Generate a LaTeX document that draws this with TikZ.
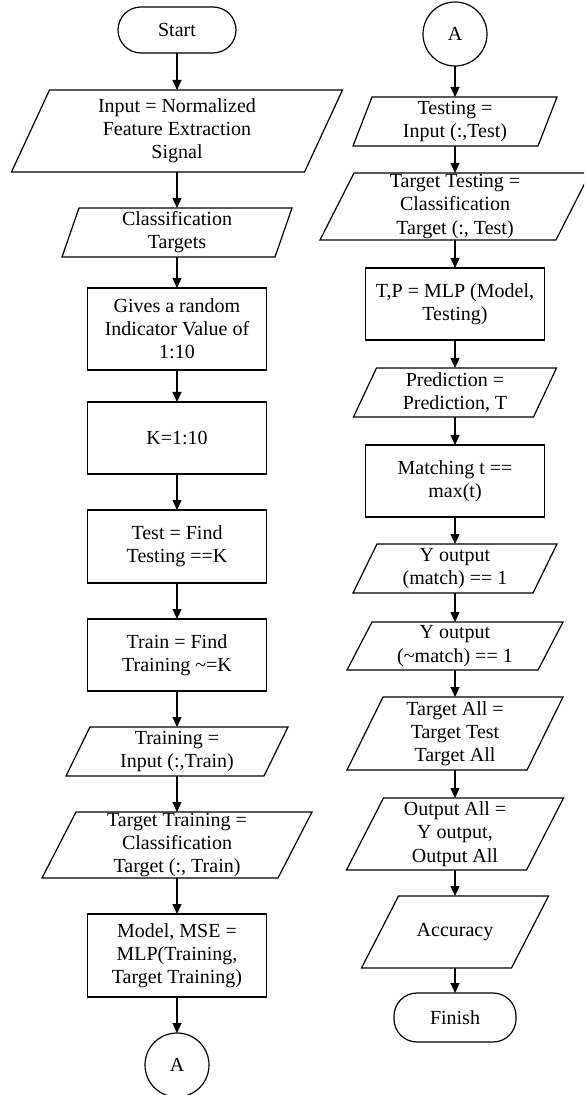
\documentclass[tikz,border=0pt]{standalone}
\usepackage{fontspec}
\setmainfont{Liberation Serif}
\usetikzlibrary{arrows.meta}
\tikzset{
  txt/.style={rectangle, inner sep=0pt, outer sep=0pt, align=center, font=\fontsize{10}{11.6}\selectfont},
  proc/.style={txt, draw, line width=0.6pt},
  term/.style={txt, draw, line width=0.6pt, rounded corners=11.5pt},
  conn/.style={circle, draw, line width=0.6pt, minimum size=32pt, inner sep=0pt, outer sep=0pt, font=\fontsize{10}{11.6}\selectfont},
  ioline/.style={line width=0.6pt, line join=miter},
  arr/.style={line width=0.6pt, -{Triangle[width=4.5pt,length=5pt]}},
}
% name, cx, cy, w, h, slant (all in px), text
\newcommand\iobox[7]{%
  \node[txt, minimum width=#4*0.5pt, minimum height=#5*0.5pt] (#1) at (#2,#3) {#7};
  \draw[ioline] ([xshift=#6*0.25pt]#1.north west) -- ([xshift=#6*0.25pt]#1.north east)
     -- ([xshift=-#6*0.25pt]#1.south east) -- ([xshift=-#6*0.25pt]#1.south west) -- cycle;}
\begin{document}
\begin{tikzpicture}[x=0.5pt,y=-0.5pt]
\clip (0,0) rectangle (584,1095);
% ---------- left column ----------
\node[term, minimum width=59pt, minimum height=23pt] (start) at (177,30) {Start};
\iobox{inp}{177}{131}{293}{82}{38}{Input = Normalized\\Feature Extraction\\Signal}
\iobox{cls}{177}{232.5}{213}{49}{17}{Classification\\Targets}
\node[proc, minimum width=89.5pt, minimum height=41pt] (rnd) at (177,329) {Gives a random\\Indicator Value of\\1:10};
\node[proc, minimum width=89.5pt, minimum height=36pt] (kk) at (177,438) {K=1:10};
\node[proc, minimum width=89.5pt, minimum height=36.5pt] (test) at (177,546.5) {Test = Find\\Testing ==K};
\node[proc, minimum width=89.5pt, minimum height=36pt] (train) at (177,655) {Train = Find\\Training \textasciitilde{}=K};
\iobox{trn}{177}{751.5}{198}{49}{24}{Training =\\Input (:,Train)}
\iobox{ttr}{177}{845}{236}{66}{34}{Target Training =\\Classification\\Target (:, Train)}
\node[proc, minimum width=89.5pt, minimum height=41.5pt] (model) at (177,955.5) {Model, MSE =\\MLP(Training,\\Target Training)};
\node[conn] (a1) at (177,1065) {A};
% ---------- right column ----------
\node[conn] (a2) at (455,34) {A};
\iobox{tst}{455}{121.5}{185}{49}{19}{Testing =\\Input (:,Test)}
\iobox{tts}{455}{206.5}{236}{67}{34}{Target Testing =\\Classification\\Target (:, Test)}
\node[proc, minimum width=89.5pt, minimum height=36pt] (tp) at (455,304) {T,P = MLP (Model,\\Testing)};
\iobox{pred}{455}{392.5}{180}{49}{23}{Prediction =\\Prediction, T}
\node[proc, minimum width=89.5pt, minimum height=36pt] (match) at (455,481) {Matching t ==\\max(t)};
\iobox{ym}{455}{568.5}{180}{49}{24}{Y output\\(match) == 1}
\iobox{ynm}{455}{646}{191}{48}{25}{Y output\\(\textasciitilde{}match) == 1}
\iobox{tall}{455}{733.5}{180}{73}{36}{Target All =\\Target Test\\Target All}
\iobox{oall}{455}{834}{180}{72}{37}{Output All =\\Y output,\\Output All}
\iobox{acc}{455}{932}{150}{72}{37}{Accuracy}
\node[term, minimum width=61pt, minimum height=24.5pt] (fin) at (455,1017.5) {Finish};
% ---------- connectors ----------
\draw[arr] (start) -- (inp);
\draw[arr] (inp) -- (cls);
\draw[arr] (cls) -- (rnd);
\draw[arr] (rnd) -- (kk);
\draw[arr] (kk) -- (test);
\draw[arr] (test) -- (train);
\draw[arr] (train) -- (trn);
\draw[arr] (trn) -- (ttr);
\draw[arr] (ttr) -- (model);
\draw[arr] (model) -- (a1);
\draw[arr] (a2) -- (tst);
\draw[arr] (tst) -- (tts);
\draw[arr] (tts) -- (tp);
\draw[arr] (tp) -- (pred);
\draw[arr] (pred) -- (match);
\draw[arr] (match) -- (ym);
\draw[arr] (ym) -- (ynm);
\draw[arr] (ynm) -- (tall);
\draw[arr] (tall) -- (oall);
\draw[arr] (oall) -- (acc);
\draw[arr] (acc) -- (fin);
\end{tikzpicture}
\end{document}
